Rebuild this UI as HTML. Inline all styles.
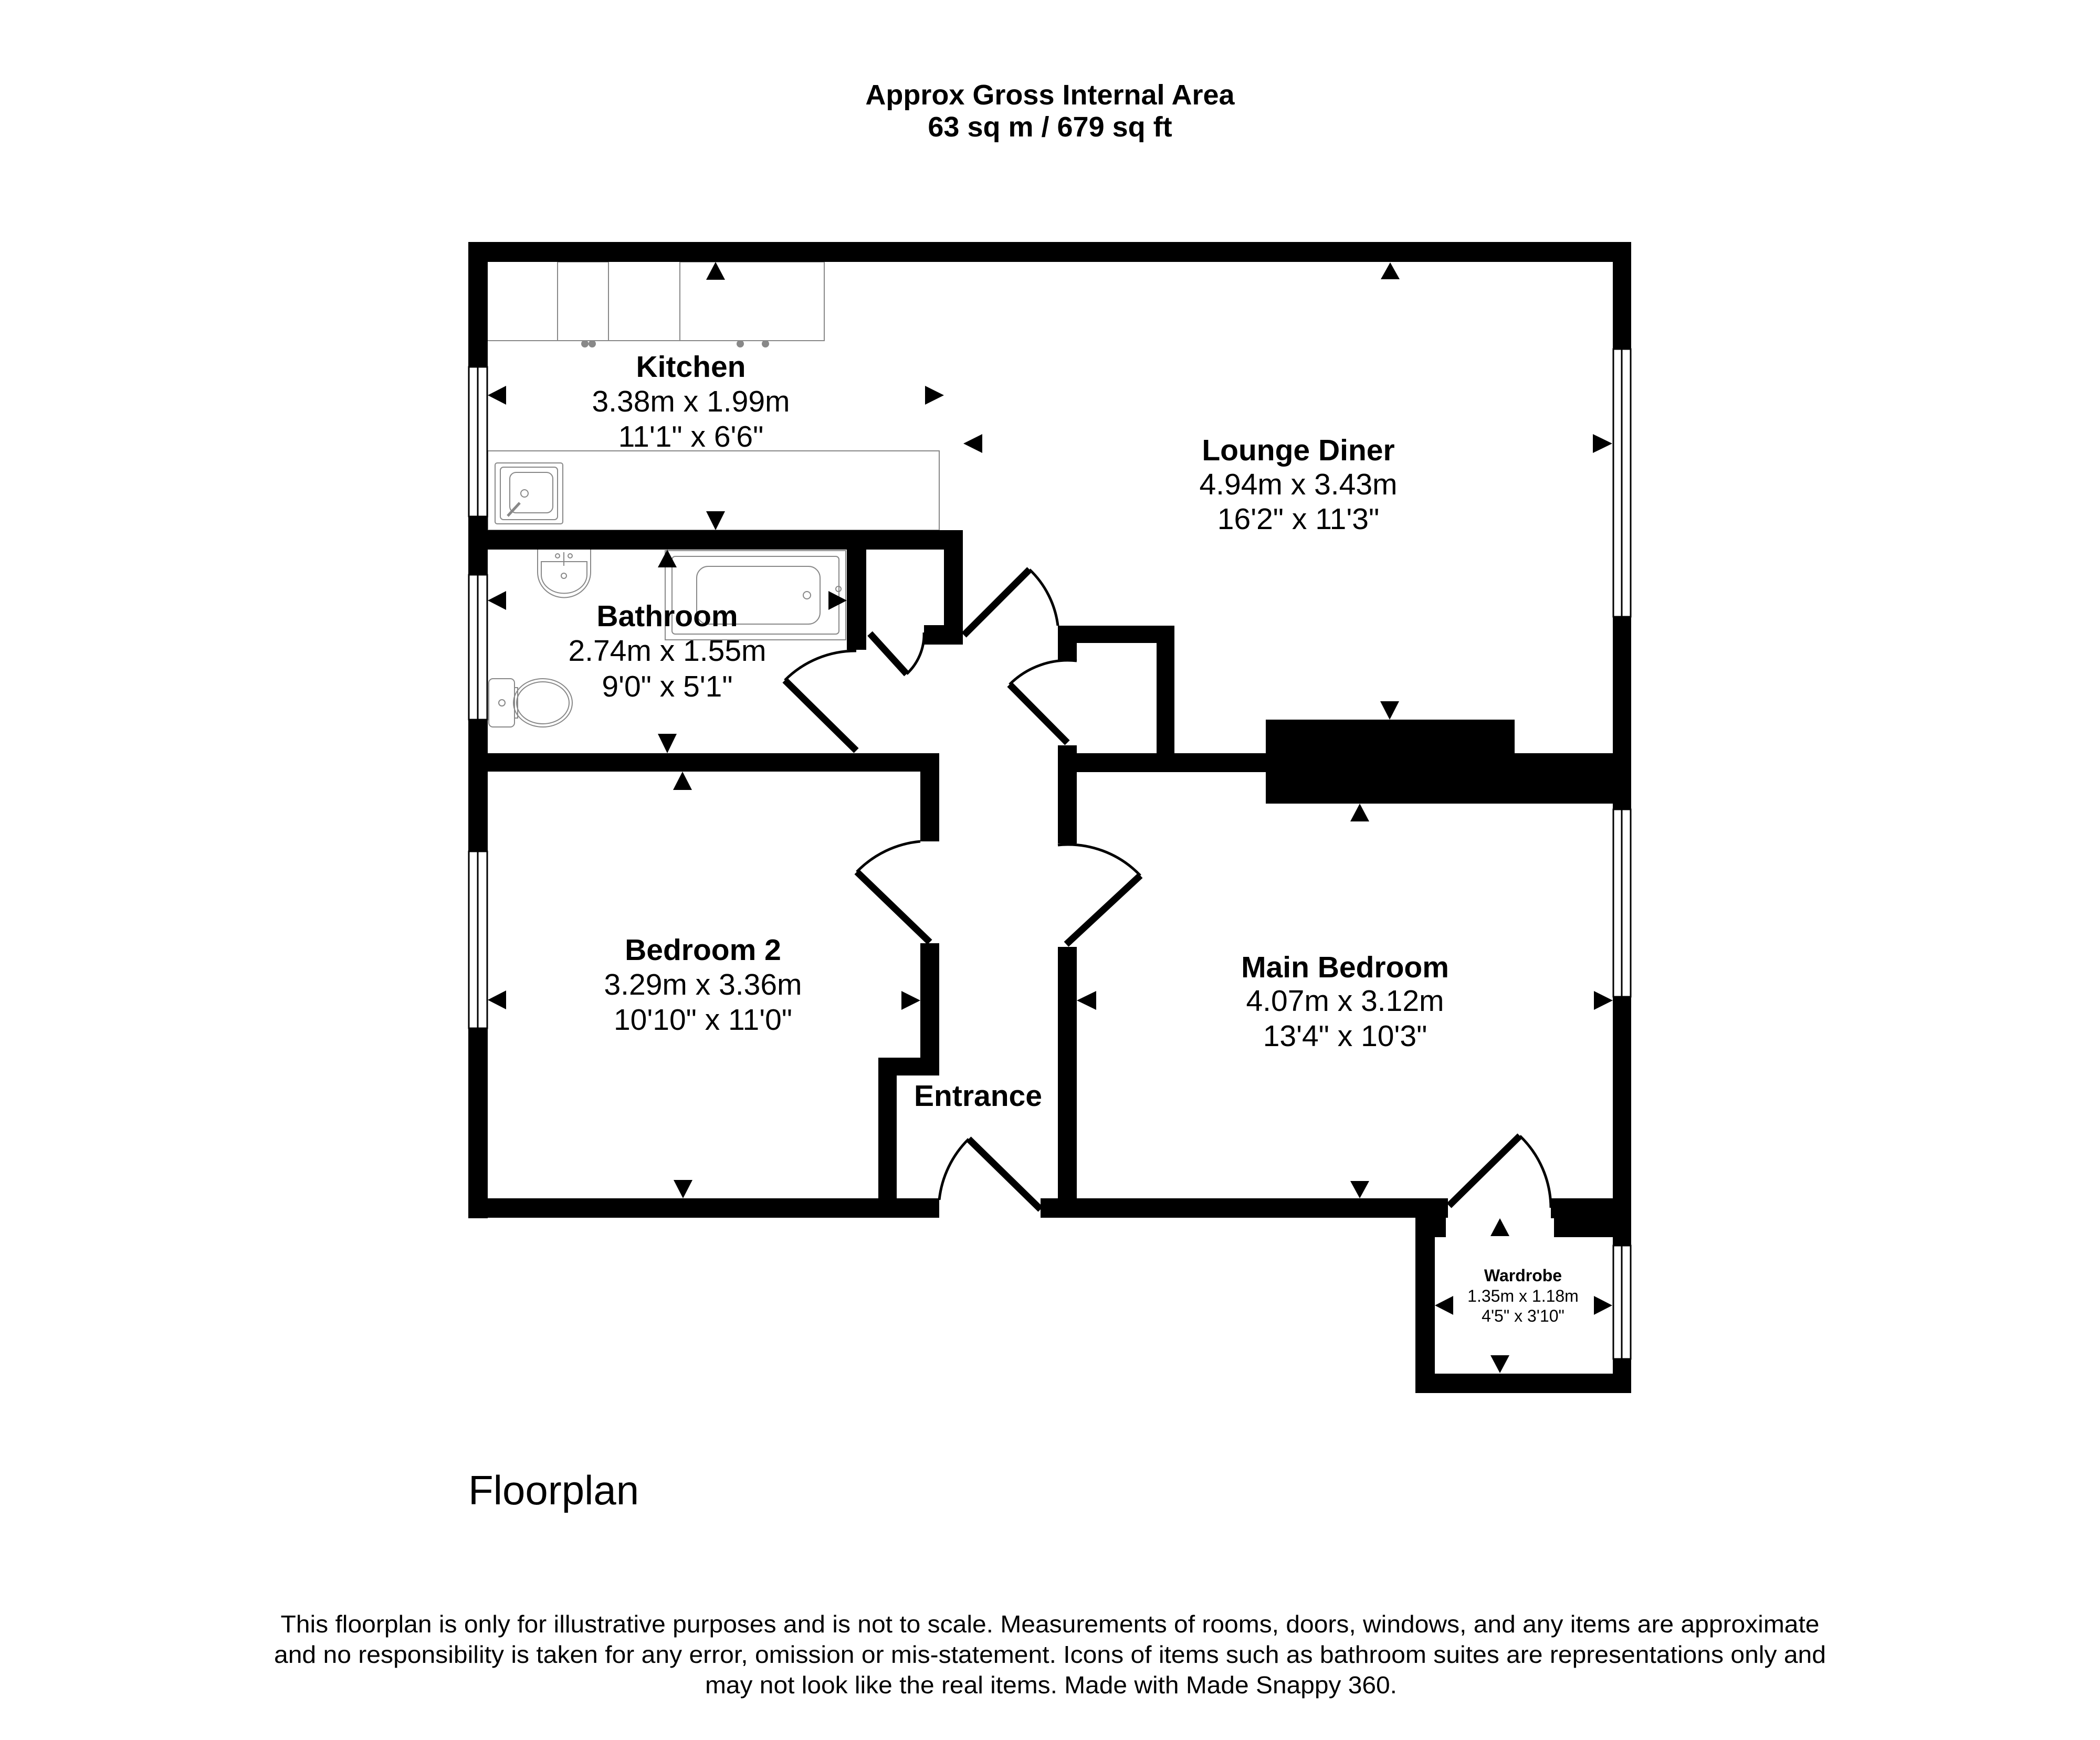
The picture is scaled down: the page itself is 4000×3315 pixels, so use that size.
<!DOCTYPE html>
<html><head><meta charset="utf-8"><style>
html,body{margin:0;padding:0;background:#fff;}
svg{display:block;}
text{font-family:"Liberation Sans",Arial,sans-serif;fill:#000;}
</style></head><body>
<svg width="4000" height="3315" viewBox="0 0 4000 3315" xmlns="http://www.w3.org/2000/svg">
<rect width="4000" height="3315" fill="#fff"/>
<!-- title -->
<text x="2000" y="199" font-size="54" font-weight="bold" text-anchor="middle">Approx Gross Internal Area</text>
<text x="2000" y="260" font-size="54" font-weight="bold" text-anchor="middle">63 sq m / 679 sq ft</text>

<!-- fittings (grey) -->
<g fill="none" stroke="#888" stroke-width="2">
<line x1="929" y1="649" x2="1570" y2="649"/>
<rect x="1062" y="499" width="97" height="150"/>
<rect x="1295" y="499" width="275" height="150"/>
<circle cx="1114" cy="655" r="6" fill="#888"/><circle cx="1128" cy="655" r="6" fill="#888"/>
<circle cx="1410" cy="655" r="6" fill="#888"/><circle cx="1458" cy="655" r="6" fill="#888"/>
<rect x="929" y="859" width="860" height="151"/>
<rect x="943" y="882" width="129" height="116" rx="4"/>
<rect x="953" y="890" width="109" height="100" rx="6"/>
<rect x="971" y="900" width="82" height="77" rx="12"/>
<circle cx="999" cy="940" r="7"/>
<line x1="967" y1="983" x2="990" y2="958" stroke-width="5"/>
<!-- bathroom sink -->
<path d="M1024 1047 L1024 1090 A50 48 0 0 0 1125 1090 L1125 1047"/>
<path d="M1031 1070 L1118 1070 L1118 1095 A43 35 0 0 1 1031 1095 Z"/>
<circle cx="1074" cy="1097" r="5"/>
<line x1="1074" y1="1052" x2="1074" y2="1078"/>
<circle cx="1062" cy="1059" r="4"/><circle cx="1086" cy="1059" r="4"/>
<!-- bath -->
<rect x="1267" y="1049" width="344" height="170"/>
<rect x="1280" y="1060" width="318" height="148" rx="6"/>
<rect x="1327" y="1079" width="235" height="110" rx="22"/>
<circle cx="1537" cy="1134" r="7"/>
<circle cx="1597" cy="1122" r="5"/><circle cx="1597" cy="1144" r="5"/>
<!-- toilet -->
<rect x="931" y="1293" width="49" height="92" rx="8"/>
<circle cx="956" cy="1339" r="6"/>
<rect x="980" y="1310" width="6" height="58"/>
<ellipse cx="1034" cy="1339" rx="56" ry="46"/>
<ellipse cx="1034" cy="1339" rx="50" ry="40"/>
</g>

<!-- walls -->
<g fill="#000">
<rect x="892" y="461" width="2215" height="38"/>
<rect x="892" y="461" width="37" height="1860"/>
<rect x="3072" y="461" width="35" height="2193"/>
<rect x="892" y="1010" width="942" height="37"/>
<rect x="1613" y="1047" width="37" height="191"/>
<rect x="1798" y="1010" width="36" height="218"/>
<rect x="1760" y="1191" width="74" height="37"/>
<rect x="892" y="1435" width="897" height="35"/>
<rect x="1753" y="1435" width="36" height="168"/>
<rect x="1753" y="1797" width="36" height="252"/>
<rect x="1673" y="2015" width="116" height="34"/>
<rect x="1673" y="2015" width="35" height="305"/>
<rect x="892" y="2283" width="897" height="37"/>
<rect x="1982" y="2283" width="776" height="37"/>
<rect x="2696" y="2283" width="37" height="371"/>
<rect x="2733" y="2283" width="21" height="74"/>
<rect x="2954" y="2283" width="118" height="38"/>
<rect x="2960" y="2283" width="112" height="74"/>
<rect x="2696" y="2617" width="411" height="37"/>
<rect x="2015" y="1420" width="36" height="187"/>
<rect x="2015" y="1192" width="36" height="67"/>
<rect x="2015" y="1804" width="36" height="516"/>
<rect x="2015" y="1192" width="222" height="33"/>
<rect x="2203" y="1192" width="34" height="279"/>
<rect x="2051" y="1435" width="360" height="36"/>
<rect x="2411" y="1371" width="474" height="160"/>
<rect x="2885" y="1435" width="187" height="96"/>
</g>

<!-- windows -->
<g fill="#fff" stroke="#000" stroke-width="3">
<rect x="893" y="699" width="35" height="285"/><line x1="910" y1="699" x2="910" y2="984"/>
<rect x="893" y="1095" width="35" height="276"/><line x1="910" y1="1095" x2="910" y2="1371"/>
<rect x="893" y="1622" width="35" height="337"/><line x1="910" y1="1622" x2="910" y2="1959"/>
<rect x="3073" y="665" width="33" height="510"/><line x1="3089" y1="665" x2="3089" y2="1175"/>
<rect x="3073" y="1542" width="33" height="357"/><line x1="3089" y1="1542" x2="3089" y2="1899"/>
<rect x="3073" y="2373" width="33" height="216"/><line x1="3089" y1="2373" x2="3089" y2="2589"/>
</g>

<!-- doors -->
<g stroke="#000" fill="none">
<g stroke-width="13">
<line x1="1631" y1="1430" x2="1495" y2="1296"/>
<line x1="1657" y1="1207" x2="1727" y2="1284"/>
<line x1="1836" y1="1210" x2="1961" y2="1085"/>
<line x1="2033" y1="1415" x2="1923" y2="1304"/>
<line x1="1771" y1="1795" x2="1632" y2="1661"/>
<line x1="2031" y1="1799" x2="2172" y2="1668"/>
<line x1="1982" y1="2304" x2="1845" y2="2170"/>
<line x1="2760" y1="2297" x2="2895" y2="2164"/>
</g>
<g stroke-width="5">
<path d="M1495 1296 A190 190 0 0 1 1631 1240"/>
<path d="M1727 1284 A103 103 0 0 0 1760 1205"/>
<path d="M1961 1085 A178 178 0 0 1 2015 1192"/>
<path d="M1923 1304 A157 157 0 0 1 2051 1259"/>
<path d="M1632 1661 A193 193 0 0 1 1753 1603"/>
<path d="M2172 1668 A190 190 0 0 0 2015 1610"/>
<path d="M1845 2170 A192 192 0 0 0 1789 2286"/>
<path d="M2895 2164 A192 192 0 0 1 2954 2301"/>
</g>
</g>

<!-- arrows -->
<g fill="#000">
<polygon points="1363,499 1345,533 1381,533"/>
<polygon points="2648,500 2630,532 2666,532"/>
<polygon points="1271,1047 1253,1081 1289,1081"/>
<polygon points="1300,1470 1282,1505 1318,1505"/>
<polygon points="2590,1531 2572,1565 2608,1565"/>
<polygon points="2857,2321 2839,2355 2875,2355"/>
<polygon points="1363,1010 1345,974 1381,974"/>
<polygon points="2647,1371 2629,1336 2665,1336"/>
<polygon points="1271,1435 1253,1398 1289,1398"/>
<polygon points="1301,2283 1283,2248 1319,2248"/>
<polygon points="2590,2283 2572,2250 2608,2250"/>
<polygon points="2857,2616 2839,2582 2875,2582"/>
<polygon points="929,753 964,735 964,771"/>
<polygon points="1835,845 1871,827 1871,863"/>
<polygon points="929,1144 964,1126 964,1162"/>
<polygon points="929,1905 964,1887 964,1923"/>
<polygon points="2051,1906 2088,1888 2088,1924"/>
<polygon points="2733,2487 2768,2469 2768,2505"/>
<polygon points="1798,753 1762,735 1762,771"/>
<polygon points="3071,845 3034,827 3034,863"/>
<polygon points="1613,1144 1578,1126 1578,1162"/>
<polygon points="1753,1906 1717,1888 1717,1924"/>
<polygon points="3072,1906 3036,1888 3036,1924"/>
<polygon points="3071,2487 3036,2469 3036,2505"/>
</g>

<!-- room labels -->
<g font-size="57" text-anchor="middle">
<text x="1316" y="718" font-weight="bold">Kitchen</text>
<text x="1316" y="784">3.38m x 1.99m</text>
<text x="1316" y="851">11'1" x 6'6"</text>
<text x="2473" y="877" font-weight="bold">Lounge Diner</text>
<text x="2473" y="942">4.94m x 3.43m</text>
<text x="2473" y="1008">16'2" x 11'3"</text>
<text x="1271" y="1193" font-weight="bold">Bathroom</text>
<text x="1271" y="1259">2.74m x 1.55m</text>
<text x="1271" y="1327">9'0" x 5'1"</text>
<text x="1339" y="1829" font-weight="bold">Bedroom 2</text>
<text x="1339" y="1895">3.29m x 3.36m</text>
<text x="1339" y="1962">10'10" x 11'0"</text>
<text x="2562" y="1862" font-weight="bold">Main Bedroom</text>
<text x="2562" y="1926">4.07m x 3.12m</text>
<text x="2562" y="1993">13'4" x 10'3"</text>
<text x="1863" y="2107" font-weight="bold">Entrance</text>
</g>
<g font-size="32" text-anchor="middle">
<text x="2901" y="2441" font-weight="bold">Wardrobe</text>
<text x="2901" y="2480">1.35m x 1.18m</text>
<text x="2901" y="2518">4'5" x 3'10"</text>
</g>

<!-- footer -->
<text x="892" y="2866" font-size="78">Floorplan</text>
<g font-size="46" text-anchor="middle">
<text x="2000" y="3110" textLength="2931" lengthAdjust="spacingAndGlyphs">This floorplan is only for illustrative purposes and is not to scale. Measurements of rooms, doors, windows, and any items are approximate</text>
<text x="2000" y="3168" textLength="2956" lengthAdjust="spacingAndGlyphs">and no responsibility is taken for any error, omission or mis-statement. Icons of items such as bathroom suites are representations only and</text>
<text x="2002" y="3226" textLength="1318" lengthAdjust="spacingAndGlyphs">may not look like the real items. Made with Made Snappy 360.</text>
</g>
</svg>
</body></html>
